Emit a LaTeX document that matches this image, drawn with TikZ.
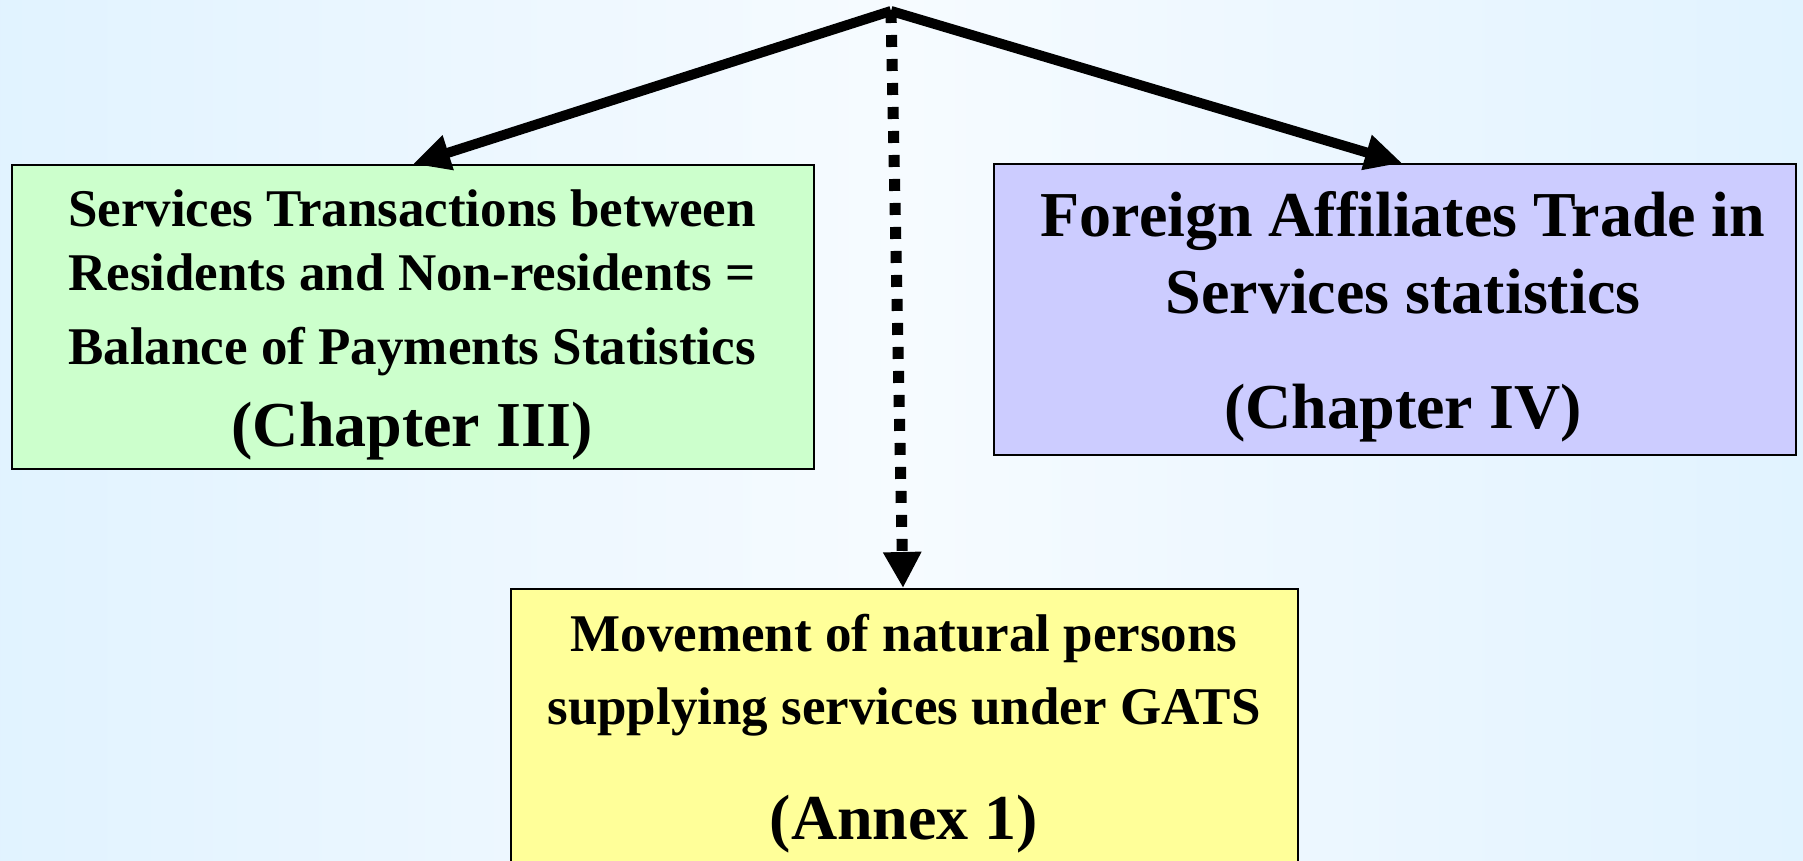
\documentclass[tikz,border=0pt]{standalone}
\usepackage{fontspec}
\setmainfont{Liberation Serif}
\usetikzlibrary{arrows.meta}
\definecolor{bgedge}{HTML}{CCEAFF}
\definecolor{bgmid}{HTML}{F6FBFF}
\definecolor{bopfill}{HTML}{CCFFCC}
\definecolor{fatsfill}{HTML}{CCCCFF}
\definecolor{mnpfill}{HTML}{FFFF99}
\pgfdeclarehorizontalshading{bgshade}{100bp}{color(0bp)=(bgedge); color(50bp)=(bgmid); color(100bp)=(bgedge)}
\tikzset{
  box/.style={draw=black, line width=2pt, inner sep=0pt, anchor=north west},
  small/.style={anchor=base, inner sep=0pt, font=\fontsize{53}{53}\selectfont\bfseries},
  big/.style={anchor=base, inner sep=0pt, font=\fontsize{64}{64}\selectfont\bfseries},
  solidarrow/.style={line width=10pt, -{Triangle[length=37pt,width=34pt]}},
  dotarrow/.style={line width=11pt, dash pattern=on 12pt off 12pt, -{Triangle[length=36pt,width=36pt]}}
}
\begin{document}
\begin{tikzpicture}[x=1pt,y=-1pt]
\useasboundingbox (0,0) rectangle (1803,861);
\clip (0,0) rectangle (1803,861);
\shade[shading=bgshade] (0,0) rectangle (1803,861);

% boxes
\node[box, fill=bopfill, minimum width=802pt, minimum height=304pt] (bop) at (11,164) {};
\node[box, fill=fatsfill, minimum width=802pt, minimum height=291pt] (fats) at (993,163) {};
\node[box, fill=mnpfill, minimum width=787pt, minimum height=320pt] (mnp) at (510,588) {};

% texts
\node[small] (bop1) at (412,226) {Services Transactions between};
\node[small] (bop2) at (412,290) {Residents and Non-residents =};
\node[small] (bop3) at (412,364) {Balance of Payments Statistics};
\node[big] (bop4) at (412,446) {(Chapter III)};

\node[big] (fats1) at (1403,236) {Foreign Affiliates Trade in};
\node[big] (fats2) at (1403,313) {Services statistics};
\node[big] (fats3) at (1403,428) {(Chapter IV)};

\node[small] (mnp1) at (904,651) {Movement of natural persons};
\node[small] (mnp2) at (904,724) {supplying services under GATS};
\node[big] (mnp3) at (904,839) {(Annex 1)};

% connectors
\coordinate (apex) at (891,11);
\coordinate (lx) at (413,0);
\coordinate (rx) at (1402,0);
\coordinate (dx) at (903,0);
\draw[solidarrow] (apex) -- (bop.north -| lx);
\draw[solidarrow] (apex) -- (fats.north -| rx);
\draw[dotarrow] (apex) -- (mnp.north -| dx);
\end{tikzpicture}
\end{document}
